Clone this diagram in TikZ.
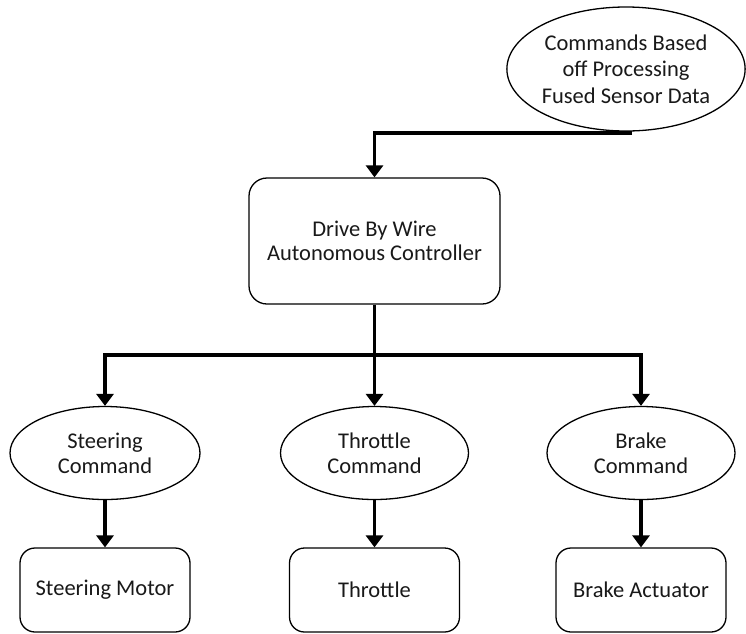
\documentclass[tikz,border=0pt]{standalone}
\usepackage{fontspec}
\setmainfont{Carlito}
\usetikzlibrary{shapes.geometric,arrows.meta}
\begin{document}
\begin{tikzpicture}[x=1pt,y=-1pt,
  outline/.style={draw=black, line width=1.3pt, text=black!90},
  oval/.style={outline, ellipse, inner sep=0pt, align=center,
    font=\fontsize{22.5}{25}\selectfont},
  rbox/.style={outline, rectangle, inner sep=0pt, align=center,
    font=\fontsize{22.5}{24.5}\selectfont},
  flow/.style={line width=3.5pt, -{Triangle[width=17pt,length=12pt]}},
]
\useasboundingbox[fill=white] (0,0) rectangle (746,633);

% source of commands
\node[oval, font=\fontsize{22.5}{26.5}\selectfont,
  minimum width=238pt, minimum height=124pt] (src) at (626,69)
  {Commands Based\\off Processing\\Fused Sensor Data};

% central controller
\node[rbox, rounded corners=18pt, minimum width=251pt, minimum height=126pt] (ctrl) at (374.5,241)
  {Drive By Wire\\Autonomous Controller};

% command ovals
\node[oval, minimum width=190pt, minimum height=93pt] (steercmd) at (105,453) {Steering\\Command};
\node[oval, minimum width=188pt, minimum height=93pt] (thrcmd) at (374.5,453) {Throttle\\Command};
\node[oval, minimum width=188pt, minimum height=93pt] (brkcmd) at (641,453) {Brake\\Command};

% actuators
\node[rbox, rounded corners=15pt, minimum width=170pt, minimum height=84pt] (steer) at (105,590) {Steering Motor};
\node[rbox, rounded corners=15pt, minimum width=170pt, minimum height=84pt] (thr) at (374.5,590) {Throttle};
\node[rbox, rounded corners=15pt, minimum width=170pt, minimum height=84pt] (brk) at (641,590) {Brake Actuator};

% connectors
\coordinate (srcout) at (632,133);
\coordinate (bus) at (374.5,355);
\draw[flow] (srcout) -| (ctrl.north);
\draw[flow] (ctrl.south) -- (thrcmd.north);
\draw[flow] (bus) -| (steercmd.north);
\draw[flow] (bus) -| (brkcmd.north);
\draw[flow] (steercmd.south) -- (steer.north);
\draw[flow] (thrcmd.south) -- (thr.north);
\draw[flow] (brkcmd.south) -- (brk.north);
\end{tikzpicture}
\end{document}
